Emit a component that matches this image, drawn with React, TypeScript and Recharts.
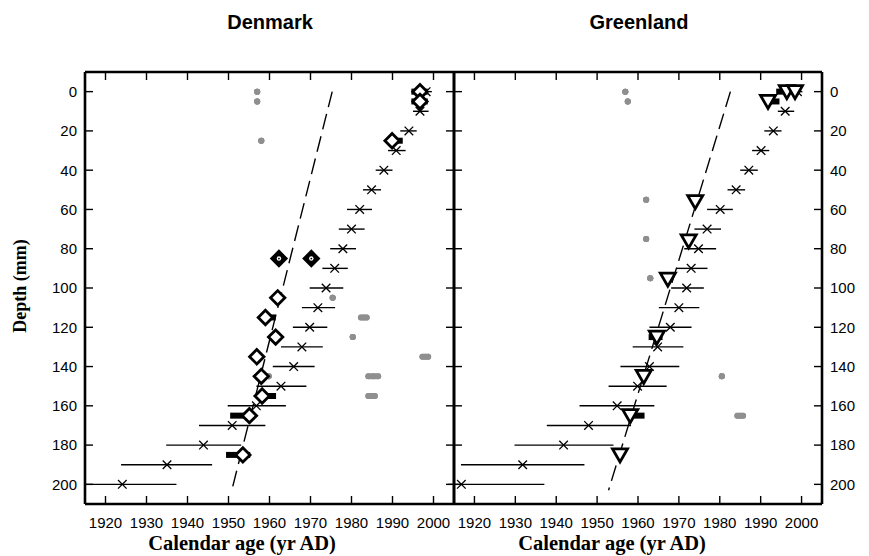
import React from 'react';
import { ScatterChart, Scatter, XAxis, YAxis, ErrorBar } from 'recharts';

// ---------- ticks & domains ----------
const yearTicks = [1920, 1930, 1940, 1950, 1960, 1970, 1980, 1990, 2000];
const depthTicks = [0, 20, 40, 60, 80, 100, 120, 140, 160, 180, 200];
const xDomain: [number, number] = [1915, 2005];
const yDomain: [number, number] = [-10, 210];

// ---------- Denmark ----------
const dkDepth = [0, 10, 20, 30, 40, 50, 60, 70, 80, 90, 100, 110, 120, 130, 140, 150, 160, 170, 180, 190, 200];
const dkAge = [1998.2, 1996.7, 1994.0, 1990.9, 1987.9, 1984.9, 1982.0, 1980.0, 1977.9, 1975.9, 1973.8, 1971.8, 1969.8, 1967.9, 1965.9, 1962.8, 1956.8, 1950.9, 1943.9, 1935.0, 1924.1];
const dkAgeMin = [1996.8, 1995.0, 1991.9, 1988.9, 1985.9, 1982.8, 1978.9, 1976.9, 1974.8, 1972.9, 1969.8, 1967.9, 1965.7, 1962.8, 1960.8, 1956.8, 1949.8, 1942.8, 1934.8, 1923.8, 1915.0];
const dkAgeMax = [1999.6, 1998.8, 1995.9, 1993.2, 1990.0, 1987.2, 1985.0, 1983.2, 1981.1, 1979.1, 1978.0, 1976.0, 1974.1, 1973.0, 1971.0, 1969.0, 1964.0, 1959.0, 1953.1, 1946.0, 1937.3];

const dkOpenDepth = [0, 5, 25, 105, 115, 125, 135, 145, 155, 165, 185];
const dkOpenAge = [1996.7, 1996.7, 1989.9, 1962.0, 1959.0, 1961.5, 1956.9, 1958.0, 1958.2, 1955.1, 1953.5];
const dkSolidDepth = [85, 85];
const dkSolidAge = [1962.3, 1970.2];

const dkBlackDepth = [0, 5, 25, 115, 155, 165, 185];
const dkBlackLo = [1994.6, 1994.6, 1989.9, 1960.4, 1958.2, 1950.4, 1949.4];
const dkBlackHi = [1998.6, 1998.6, 1992.5, 1961.5, 1961.6, 1955.1, 1955.3];

const dkGrayDepth = [0, 5, 25, 105, 115, 125, 135, 145, 145, 155];
const dkGrayLo = [1957.0, 1957.0, 1958.0, 1975.4, 1982.3, 1980.3, 1997.3, 1959.8, 1984.1, 1984.1];
const dkGrayHi = [1957.0, 1957.0, 1958.0, 1975.4, 1983.7, 1980.3, 1998.7, 1959.8, 1986.5, 1985.7];

const dkLineAge = [1975.3, 1950.8];
const dkLineDepth = [0, 203];

// ---------- Greenland ----------
const glDepth = [0, 10, 20, 30, 40, 50, 60, 70, 80, 90, 100, 110, 120, 130, 140, 150, 160, 170, 180, 190, 200];
const glAge = [1999.0, 1996.0, 1993.1, 1990.1, 1987.1, 1984.0, 1980.1, 1976.9, 1974.8, 1973.0, 1971.9, 1970.0, 1967.9, 1964.8, 1962.8, 1959.9, 1954.9, 1947.9, 1941.8, 1931.8, 1916.8];
const glAgeMin = [1997.8, 1994.2, 1990.9, 1987.9, 1985.0, 1981.9, 1976.9, 1973.8, 1971.3, 1969.3, 1968.1, 1965.1, 1962.8, 1958.7, 1955.7, 1952.8, 1945.7, 1937.7, 1929.8, 1916.7, 1913.5];
const glAgeMax = [2000.2, 1998.2, 1995.1, 1992.1, 1989.3, 1986.2, 1983.2, 1980.3, 1979.1, 1977.0, 1976.1, 1975.0, 1973.1, 1971.1, 1970.1, 1967.0, 1964.0, 1958.3, 1954.0, 1946.9, 1937.1];

const glTriDepth = [0, 0, 5, 56, 76, 95.5, 125, 145, 165, 185];
const glTriAge = [1996.4, 1998.4, 1991.8, 1974.0, 1972.4, 1967.3, 1964.6, 1961.4, 1958.1, 1955.6];

const glBlackDepth = [0, 5, 125, 165];
const glBlackLo = [1993.8, 1991.8, 1962.6, 1958.3];
const glBlackHi = [1995.8, 1994.6, 1966.0, 1961.6];

const glGrayDepth = [0, 5, 55, 75, 95, 145, 165];
const glGrayLo = [1956.9, 1957.5, 1962.0, 1962.0, 1963.0, 1980.5, 1984.3];
const glGrayHi = [1956.9, 1957.5, 1962.0, 1962.0, 1963.0, 1980.5, 1985.7];

const glLineAge = [1982.6, 1952.8];
const glLineDepth = [0, 203];

// ---------- builders ----------
type Pt = { x: number; y: number; err?: [number, number] };
const withErr = (d: number[], a: number[], lo: number[], hi: number[]): Pt[] =>
  d.map((v, i) => ({ x: a[i], y: v, err: [a[i] - lo[i], hi[i] - a[i]] }));
const ranges = (d: number[], lo: number[], hi: number[]): Pt[] =>
  d.map((v, i) => ({ x: (lo[i] + hi[i]) / 2, y: v, err: [(hi[i] - lo[i]) / 2, (hi[i] - lo[i]) / 2] }));
const pts = (d: number[], a: number[]): Pt[] => d.map((v, i) => ({ x: a[i], y: v }));

// ---------- shapes ----------
const XShape = (p: any) => {
  const { cx, cy } = p;
  const s = 4.3;
  return (
    <g>
      <line x1={cx - s} y1={cy - s} x2={cx + s} y2={cy + s} stroke="#000" strokeWidth={1.3} />
      <line x1={cx - s} y1={cy + s} x2={cx + s} y2={cy - s} stroke="#000" strokeWidth={1.3} />
    </g>
  );
};
const NoShape = () => <g />;
const EmptyTick = () => <g />;
const GrayDot = (p: any) => <circle cx={p.cx} cy={p.cy} r={3} fill="#8f8f8f" />;
const Diamond = (p: any) => {
  const { cx, cy } = p;
  const s = 7.2;
  return (
    <polygon
      points={`${cx},${cy - s} ${cx + s},${cy} ${cx},${cy + s} ${cx - s},${cy}`}
      fill="#fff"
      stroke="#000"
      strokeWidth={2.8}
    />
  );
};
const SolidDiamond = (p: any) => {
  const { cx, cy } = p;
  const s = 7.2;
  return (
    <g>
      <polygon
        points={`${cx},${cy - s} ${cx + s},${cy} ${cx},${cy + s} ${cx - s},${cy}`}
        fill="#000"
        stroke="#000"
        strokeWidth={2.8}
      />
      <circle cx={cx} cy={cy} r={2.2} fill="#fff" />
      <circle cx={cx} cy={cy} r={0.9} fill="#000" />
    </g>
  );
};
const TriDown = (p: any) => {
  const { cx, cy } = p;
  return (
    <polygon
      points={`${cx - 7.5},${cy - 6} ${cx + 7.5},${cy - 6} ${cx},${cy + 7}`}
      fill="#fff"
      stroke="#000"
      strokeWidth={2.8}
    />
  );
};

// ---------- axis styles ----------
const axisLine = { stroke: '#000', strokeWidth: 2.6 };
const tickLine = { stroke: '#000', strokeWidth: 1.4 };
const tickFont = { fill: '#000', fontSize: 15, fontFamily: '"Liberation Sans", Arial, sans-serif' };

type PanelProps = {
  left: number;
  width: number;
  margin: { top: number; right: number; bottom: number; left: number };
  labelLeft: boolean;
  labelRight: boolean;
  xs: Pt[];
  gray: Pt[];
  black: Pt[];
  open: Pt[];
  solid: Pt[];
  line: Pt[];
  OpenShape: any;
  prefix: string;
};

function Panel(pp: PanelProps) {
  return (
    <div style={{ position: 'absolute', left: pp.left, top: 0, width: pp.width, height: 556 }}>
      <ScatterChart width={pp.width} height={556} margin={pp.margin}>
        {/* labelled bottom axis (labels only) */}
        <XAxis
          xAxisId="b"
          dataKey="x"
          type="number"
          domain={xDomain}
          allowDataOverflow
          ticks={yearTicks}
          interval={0}
          orientation="bottom"
          height={40}
          tickSize={0}
          tickMargin={13}
          axisLine={false}
          tickLine={false}
          tick={tickFont}
        />
        {/* frame + inward ticks, bottom */}
        <XAxis
          xAxisId="bm"
          dataKey="x"
          type="number"
          domain={xDomain}
          allowDataOverflow
          ticks={yearTicks}
          interval={0}
          orientation="bottom"
          mirror
          height={1}
          tickSize={8}
          axisLine={axisLine}
          tickLine={tickLine}
          tick={EmptyTick}
        />
        {/* frame + inward ticks, top */}
        <XAxis
          xAxisId="tm"
          dataKey="x"
          type="number"
          domain={xDomain}
          allowDataOverflow
          ticks={yearTicks}
          interval={0}
          orientation="top"
          mirror
          height={1}
          tickSize={8}
          axisLine={axisLine}
          tickLine={tickLine}
          tick={EmptyTick}
        />
        {pp.labelLeft && (
          <YAxis
            yAxisId="ll"
            dataKey="y"
            type="number"
            reversed
            domain={yDomain}
            allowDataOverflow
            ticks={depthTicks}
            interval={0}
            orientation="left"
            width={60}
            tickSize={0}
            tickMargin={8}
            axisLine={false}
            tickLine={false}
            tick={tickFont}
          />
        )}
        {pp.labelRight && (
          <YAxis
            yAxisId="rl"
            dataKey="y"
            type="number"
            reversed
            domain={yDomain}
            allowDataOverflow
            ticks={depthTicks}
            interval={0}
            orientation="right"
            width={40}
            tickSize={0}
            tickMargin={8}
            axisLine={false}
            tickLine={false}
            tick={tickFont}
          />
        )}
        <YAxis
          yAxisId="l"
          dataKey="y"
          type="number"
          reversed
          domain={yDomain}
          allowDataOverflow
          ticks={depthTicks}
          interval={0}
          orientation="left"
          mirror
          width={1}
          tickSize={8}
          axisLine={axisLine}
          tickLine={tickLine}
          tick={EmptyTick}
        />
        <YAxis
          yAxisId="r"
          dataKey="y"
          type="number"
          reversed
          domain={yDomain}
          allowDataOverflow
          ticks={depthTicks}
          interval={0}
          orientation="right"
          mirror
          width={1}
          tickSize={8}
          axisLine={axisLine}
          tickLine={tickLine}
          tick={EmptyTick}
        />
        <Scatter
          name={pp.prefix + '-line'}
          xAxisId="b"
          yAxisId="l"
          data={pp.line}
          shape={NoShape}
          line={{ stroke: '#000', strokeWidth: 1.4, strokeDasharray: '16 7', fill: 'none' }}
          isAnimationActive={false}
        />
        <Scatter name={pp.prefix + '-gray'} xAxisId="b" yAxisId="l" data={pp.gray} shape={GrayDot} isAnimationActive={false}>
          <ErrorBar dataKey="err" direction="x" width={0} stroke="#8f8f8f" strokeWidth={6} strokeLinecap="round" isAnimationActive={false} />
        </Scatter>
        <Scatter name={pp.prefix + '-x'} xAxisId="b" yAxisId="l" data={pp.xs} shape={XShape} isAnimationActive={false}>
          <ErrorBar dataKey="err" direction="x" width={0} stroke="#000" strokeWidth={1.4} isAnimationActive={false} />
        </Scatter>
        <Scatter name={pp.prefix + '-black'} xAxisId="b" yAxisId="l" data={pp.black} shape={NoShape} isAnimationActive={false}>
          <ErrorBar dataKey="err" direction="x" width={0} stroke="#000" strokeWidth={6} isAnimationActive={false} />
        </Scatter>
        <Scatter name={pp.prefix + '-open'} xAxisId="b" yAxisId="l" data={pp.open} shape={pp.OpenShape} isAnimationActive={false} />
        <Scatter name={pp.prefix + '-solid'} xAxisId="b" yAxisId="l" data={pp.solid} shape={SolidDiamond} isAnimationActive={false} />
      </ScatterChart>
    </div>
  );
}

const titleStyle: React.CSSProperties = {
  position: 'absolute',
  width: 300,
  textAlign: 'center',
  fontFamily: '"Liberation Sans", Arial, sans-serif',
  fontWeight: 'bold',
  fontSize: 20,
  color: '#000',
  lineHeight: '22px',
};
const xTitleStyle: React.CSSProperties = {
  position: 'absolute',
  width: 340,
  textAlign: 'center',
  fontFamily: '"Liberation Serif", "Times New Roman", serif',
  fontWeight: 'bold',
  fontSize: 20.5,
  color: '#000',
  lineHeight: '20px',
};

export default function App() {
  return (
    <div style={{ position: 'absolute', left: 0, top: 0, width: 869, height: 556, background: '#fff', overflow: 'hidden' }}>
      <Panel
        prefix="dk"
        left={0}
        width={470}
        margin={{ top: 72, right: 16, bottom: 12, left: 25 }}
        labelLeft
        labelRight={false}
        xs={withErr(dkDepth, dkAge, dkAgeMin, dkAgeMax)}
        gray={ranges(dkGrayDepth, dkGrayLo, dkGrayHi)}
        black={ranges(dkBlackDepth, dkBlackLo, dkBlackHi)}
        open={pts(dkOpenDepth, dkOpenAge)}
        solid={pts(dkSolidDepth, dkSolidAge)}
        line={pts(dkLineDepth, dkLineAge)}
        OpenShape={Diamond}
      />
      <Panel
        prefix="gl"
        left={444}
        width={425}
        margin={{ top: 72, right: 7, bottom: 12, left: 10 }}
        labelLeft={false}
        labelRight
        xs={withErr(glDepth, glAge, glAgeMin, glAgeMax)}
        gray={ranges(glGrayDepth, glGrayLo, glGrayHi)}
        black={ranges(glBlackDepth, glBlackLo, glBlackHi)}
        open={pts(glTriDepth, glTriAge)}
        solid={[]}
        line={pts(glLineDepth, glLineAge)}
        OpenShape={TriDown}
      />
      <div style={{ ...titleStyle, left: 120, top: 11 }}>Denmark</div>
      <div style={{ ...titleStyle, left: 489, top: 11 }}>Greenland</div>
      <div style={{ ...xTitleStyle, left: 72, top: 533 }}>Calendar age (yr AD)</div>
      <div style={{ ...xTitleStyle, left: 442, top: 533 }}>Calendar age (yr AD)</div>
      <div
        style={{
          position: 'absolute',
          left: 20,
          top: 286,
          transform: 'translate(-50%, -50%) rotate(-90deg)',
          whiteSpace: 'nowrap',
          fontFamily: '"Liberation Serif", "Times New Roman", serif',
          fontWeight: 'bold',
          fontSize: 18,
          color: '#000',
        }}
      >
        Depth (mm)
      </div>
    </div>
  );
}
